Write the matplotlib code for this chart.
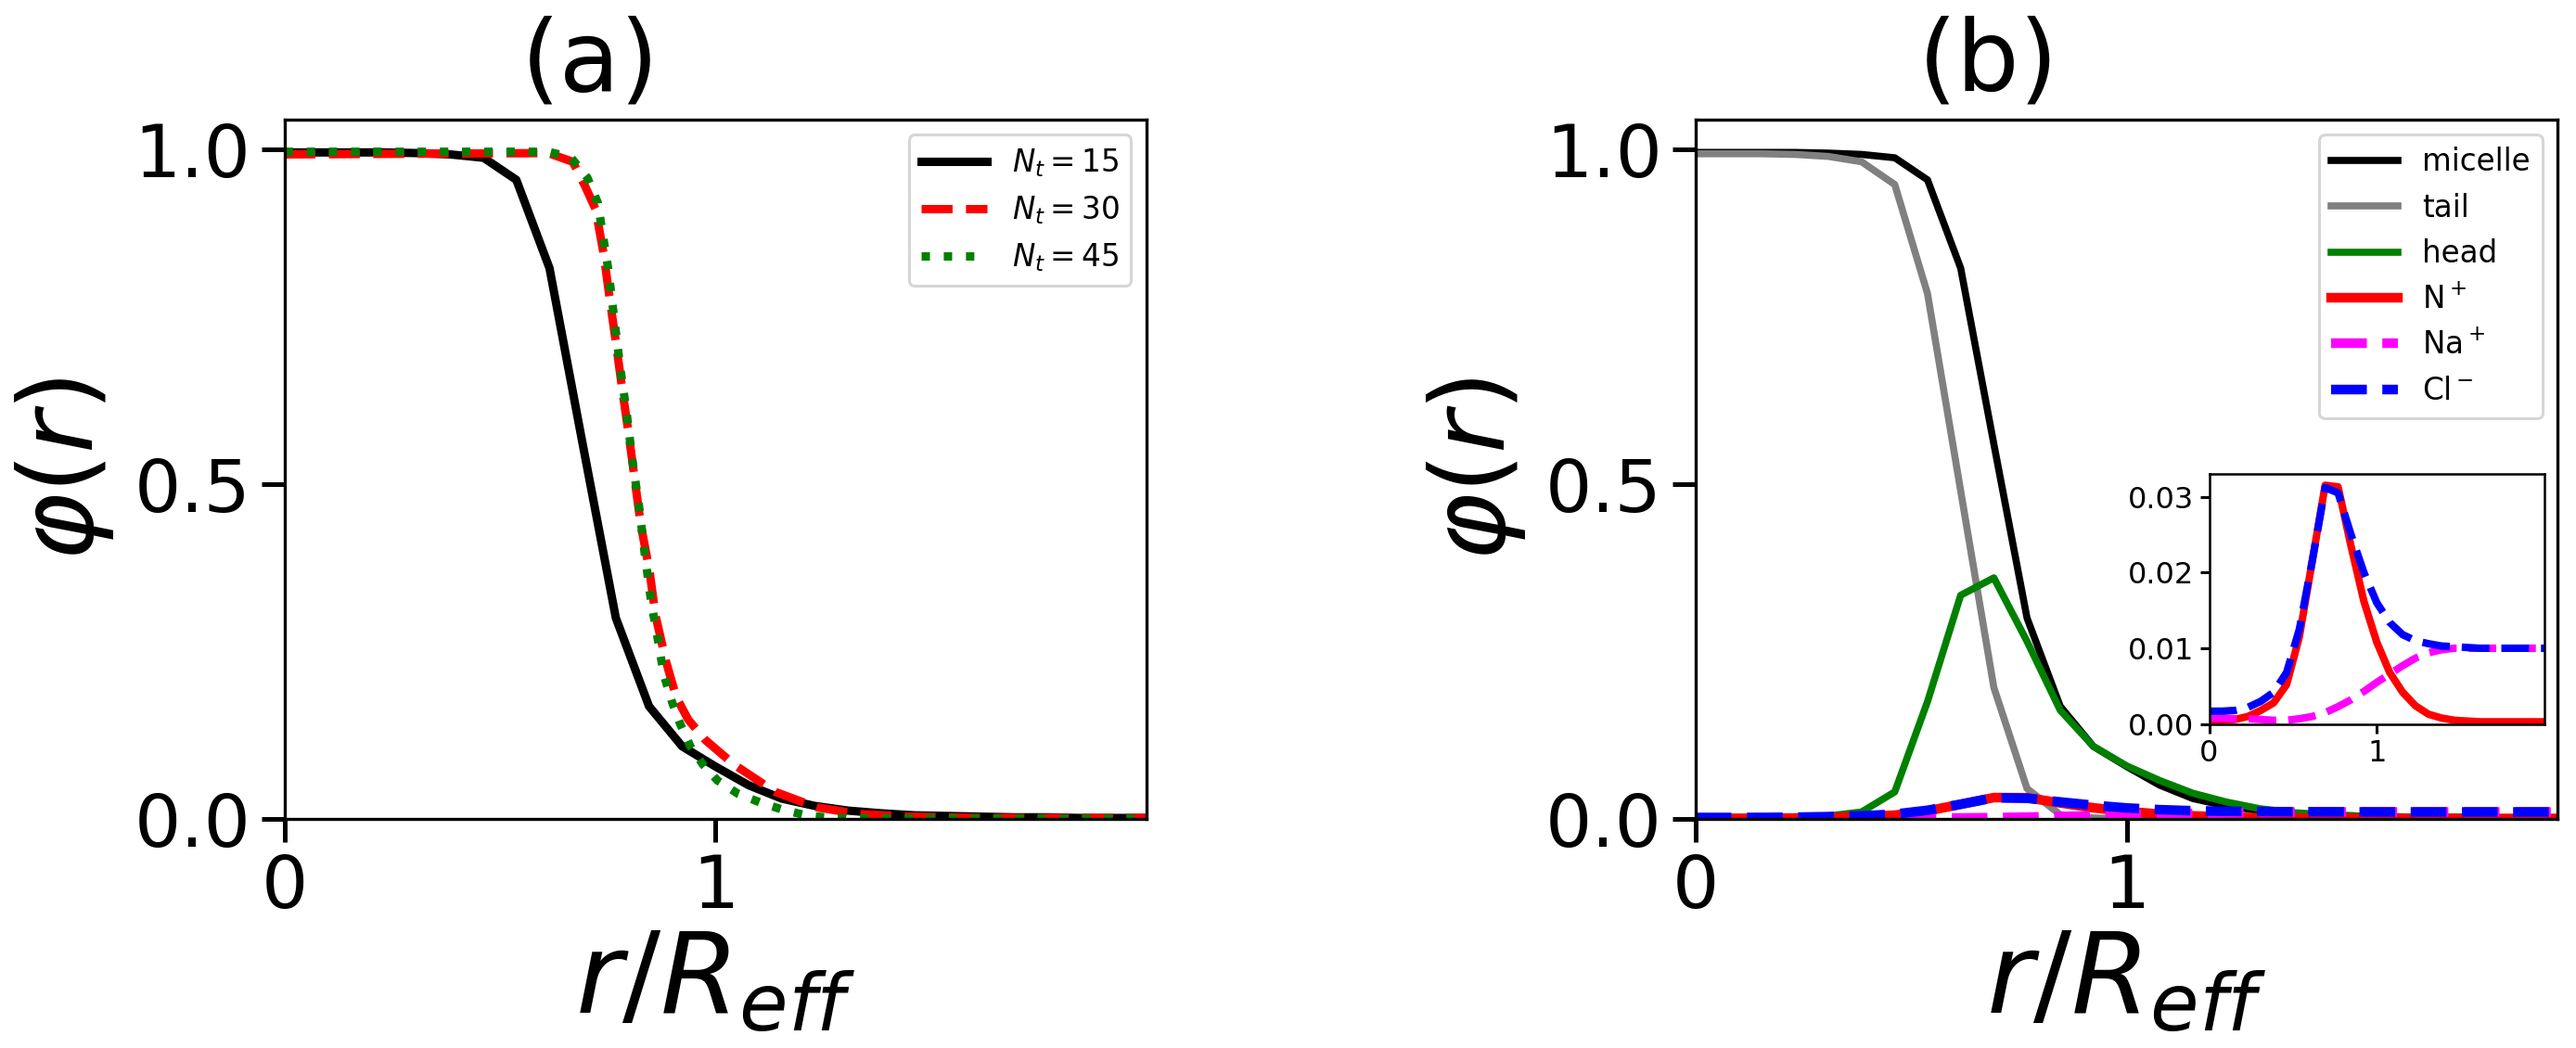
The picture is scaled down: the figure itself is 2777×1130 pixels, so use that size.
import matplotlib
matplotlib.use("Agg")
import matplotlib.pyplot as plt

# ---------------- data ----------------
# common radial grid (r / R_eff) for N_t = 15 system
r15 = [0.0, 0.077, 0.154, 0.231, 0.308, 0.385, 0.462, 0.538, 0.615, 0.692,
       0.769, 0.846, 0.923, 1.0, 1.077, 1.154, 1.231, 1.308, 1.385, 1.462,
       1.538, 1.615, 1.692, 1.769, 1.846, 1.923, 2.0]

nt15 = [0.996, 0.996, 0.996, 0.996, 0.995, 0.993, 0.988, 0.955, 0.823, 0.56,
        0.30, 0.168, 0.108, 0.078, 0.050, 0.030, 0.019, 0.012, 0.008, 0.005,
        0.004, 0.003, 0.002, 0.002, 0.001, 0.001, 0.001]

r30 = [0.0, 0.30, 0.612, 0.669, 0.698, 0.722, 0.741, 0.755, 0.770, 0.784,
       0.799, 0.813, 0.827, 0.847, 0.861, 0.885, 0.909, 0.937, 0.976, 1.043,
       1.139, 1.235, 1.331, 1.444, 1.6, 1.8, 2.0]
nt30 = [0.993, 0.994, 0.995, 0.982, 0.945, 0.911, 0.843, 0.776, 0.708, 0.641,
        0.574, 0.506, 0.439, 0.371, 0.304, 0.236, 0.182, 0.148, 0.118, 0.081,
        0.040, 0.017, 0.007, 0.003, 0.001, 0.001, 0.001]

r45 = [0.0, 0.30, 0.612, 0.664, 0.703, 0.727, 0.751, 0.765, 0.779, 0.794,
       0.808, 0.823, 0.837, 0.851, 0.866, 0.880, 0.899, 0.918, 0.942, 0.971,
       1.005, 1.053, 1.105, 1.158, 1.211, 1.268, 1.444, 1.7, 2.0]
nt45 = [0.997, 0.997, 0.997, 0.989, 0.958, 0.921, 0.823, 0.749, 0.675, 0.607,
        0.533, 0.466, 0.391, 0.324, 0.270, 0.216, 0.175, 0.142, 0.108, 0.081,
        0.057, 0.037, 0.024, 0.013, 0.005, 0.001, 0.0, 0.0, 0.0]

micelle = [0.996, 0.996, 0.996, 0.996, 0.995, 0.993, 0.988, 0.955, 0.823, 0.56,
           0.30, 0.168, 0.108, 0.078, 0.050, 0.030, 0.019, 0.012, 0.008, 0.005,
           0.004, 0.003, 0.002, 0.002, 0.001, 0.001, 0.001]
tail = [0.994, 0.994, 0.994, 0.993, 0.990, 0.982, 0.948, 0.785, 0.49, 0.196,
        0.045, 0.006, 0.001, 0.0, 0.0, 0.0, 0.0, 0.0, 0.0, 0.0,
        0.0, 0.0, 0.0, 0.0, 0.0, 0.0, 0.0]
head = [0.001, 0.001, 0.001, 0.002, 0.004, 0.010, 0.040, 0.175, 0.334, 0.360,
        0.265, 0.162, 0.108, 0.079, 0.057, 0.038, 0.025, 0.015, 0.009, 0.006,
        0.004, 0.003, 0.002, 0.002, 0.001, 0.001, 0.001]
n_plus = [0.0005, 0.0005, 0.0006, 0.0010, 0.0018, 0.0028, 0.0052, 0.0115, 0.0215, 0.0315,
          0.0313, 0.0235, 0.0162, 0.0108, 0.0068, 0.0042, 0.0024, 0.0013, 0.0008, 0.0005,
          0.0004, 0.0003, 0.0003, 0.0003, 0.0003, 0.0003, 0.0003]
na_plus = [0.0008, 0.0008, 0.0007, 0.0007, 0.0006, 0.0005, 0.0005, 0.0007, 0.0010, 0.0015,
           0.0023, 0.0032, 0.0043, 0.0055, 0.0066, 0.0077, 0.0087, 0.0094, 0.0098, 0.0100,
           0.0100, 0.0100, 0.0100, 0.0100, 0.0100, 0.0100, 0.0100]
cl_minus = [0.0017, 0.0017, 0.0018, 0.0022, 0.0030, 0.0042, 0.0068, 0.0125, 0.0215, 0.0312,
            0.0305, 0.0250, 0.0200, 0.0160, 0.0134, 0.0118, 0.0110, 0.0106, 0.0103, 0.0102,
            0.0101, 0.0100, 0.0100, 0.0100, 0.0100, 0.0100, 0.0100]

left_labels = [r"$N_t=15$", r"$N_t=30$", r"$N_t=45$"]
right_labels = ["micelle", "tail", "head", r"N$^+$", r"Na$^+$", r"Cl$^-$"]
panel_titles = ["(a)", "(b)"]
xticks = [0, 1]
yticks = [0.0, 0.5, 1.0]
inset_yticks = [0.00, 0.01, 0.02, 0.03]

# ---------------- figure ----------------
W, H = 2777, 1130
fig = plt.figure(figsize=(W / 100, H / 100), dpi=100)

ax1 = fig.add_axes([306.7 / W, 1 - 882.7 / H, 929 / W, 753.7 / H])
ax2 = fig.add_axes([1828 / W, 1 - 882.7 / H, 929 / W, 753.7 / H])

TICK_FS = 57
LW = 6.5
LW2 = 5.5
LW_ION = 7.5

ax1.plot(r15, nt15, color="black", lw=LW, ls="-", label=left_labels[0])
ax1.plot(r30, nt30, color="red", lw=LW, ls="--", label=left_labels[1])
ax1.plot(r45, nt45, color="green", lw=LW, ls=":", label=left_labels[2])

ax2.plot(r15, micelle, color="black", lw=LW2, label=right_labels[0])
ax2.plot(r15, tail, color="grey", lw=LW2, label=right_labels[1])
ax2.plot(r15, head, color="green", lw=LW2, label=right_labels[2])
ax2.plot(r15, n_plus, color="red", lw=LW_ION, ls="-", label=right_labels[3])
ax2.plot(r15, na_plus, color="magenta", lw=LW_ION, ls="--", label=right_labels[4])
ax2.plot(r15, cl_minus, color="blue", lw=LW_ION, ls="--", label=right_labels[5])

title_x = [0.355, 0.34]
for k, ax in enumerate([ax1, ax2]):
    ax.set_xlim(0, 2.0)
    ax.set_ylim(0, 1.045)
    ax.set_xticks(xticks)
    ax.set_yticks(yticks)
    ax.set_xticklabels(["0", "1"])
    ax.set_yticklabels(["0.0", "0.5", "1.0"])
    ax.tick_params(labelsize=TICK_FS, length=18, width=3.6, pad=8)
    for sp in ax.spines.values():
        sp.set_linewidth(2.4)
    ax.set_xlabel(r"$r/R_{eff}$", fontsize=88, labelpad=4)
    ax.set_ylabel(r"$\varphi(r)$", fontsize=80, labelpad=14)
    ax.set_title(panel_titles[k], fontsize=77, pad=23, x=title_x[k])
    leg = ax.legend(loc="upper right", fontsize=23.5, handlelength=2.2,
                    borderaxespad=0.5)
    leg.get_frame().set_linewidth(2.2)

# ---------------- inset ----------------
axin = fig.add_axes([2381.5 / W, 1 - 780.7 / H, 361.5 / W, 269.7 / H])
LW_IN = 5.8
axin.plot(r15, n_plus, color="red", lw=LW_IN, ls="-")
axin.plot(r15, na_plus, color="magenta", lw=LW_IN, ls="--")
axin.plot(r15, cl_minus, color="blue", lw=LW_IN, ls="--")
axin.set_xlim(0, 2.0)
axin.set_ylim(0, 0.033)
axin.set_xticks(xticks)
axin.set_xticklabels(["0", "1"])
axin.set_yticks(inset_yticks)
axin.set_yticklabels(["0.00", "0.01", "0.02", "0.03"])
axin.tick_params(labelsize=23, length=7.5, width=2.2, pad=4)
for sp in axin.spines.values():
    sp.set_linewidth(1.8)

fig.savefig("out.png", dpi=100)
